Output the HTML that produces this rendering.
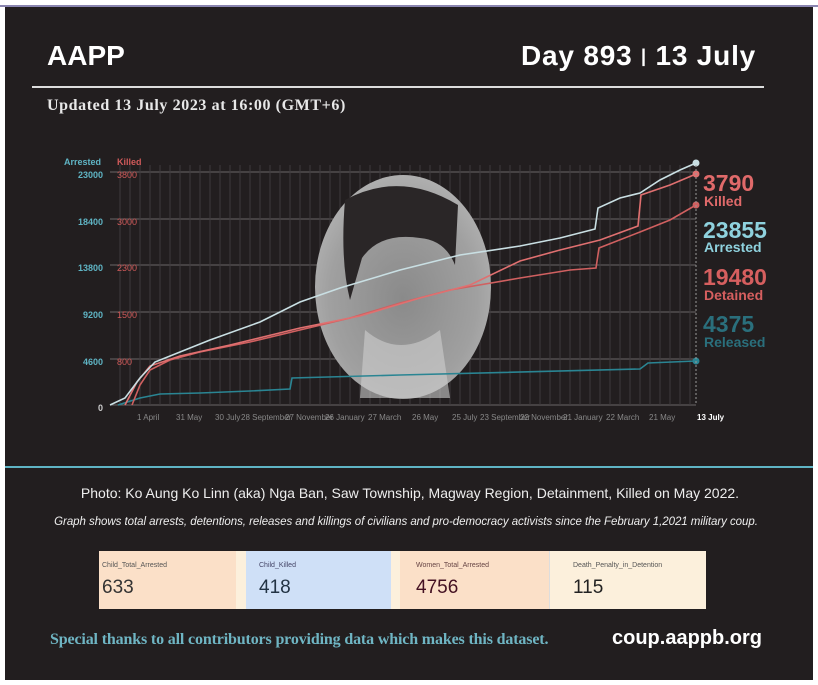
<!DOCTYPE html>
<html><head><style>
body{margin:0;width:818px;height:685px;background:#fff;overflow:hidden;font-family:"Liberation Sans",sans-serif}
#bg{position:absolute;left:5px;top:7px;width:808px;height:673px;background:#221e1f}
#topline{position:absolute;left:0;top:5px;width:818px;height:2px;background:#8a85b0}
.t{position:absolute;white-space:nowrap}
</style></head><body>
<div id="topline"></div>
<div id="bg"></div>
<div class="t" style="left:47px;top:40px;color:#fff;font-weight:bold;font-size:28px;letter-spacing:0px">AAPP</div>
<div class="t" style="left:521px;top:40px;color:#fff;font-weight:bold;font-size:28px;letter-spacing:0.8px">Day 893 <span style="font-size:18px;position:relative;top:-3px">|</span> 13 July</div>
<div style="position:absolute;left:32px;top:86px;width:732px;height:2px;background:#ddd"></div>
<div class="t" style="left:47px;top:97px;color:#e8e8e8;font-family:'Liberation Serif',serif;font-weight:bold;font-size:16px;letter-spacing:0.6px">Updated 13 July 2023 at 16:00 (GMT+6)</div>
<svg style="position:absolute;left:0;top:0" width="818" height="470">
<defs><radialGradient id="g" cx="50%" cy="55%" r="60%"><stop offset="0" stop-color="#8a8a8a"/><stop offset="0.7" stop-color="#a0a0a0"/><stop offset="1" stop-color="#b5b5b5"/></radialGradient></defs>
<g stroke="#4a4647" stroke-width="1">
<path d="M110 172H696M110 219H696M110 265H696M110 312H696M110 359H696M110 405H696" stroke="#6a6667"/>
</g>
<g id="v" stroke="#3f3b3c" stroke-width="1"></g>
<ellipse cx="403" cy="287" rx="88" ry="112" fill="url(#g)"/>
<path d="M345 200 Q400 170 458 205 L455 265 Q445 240 420 238 Q380 232 362 258 L350 300 Q340 260 345 200Z" fill="#2a2627"/>
<path d="M365 330 Q400 360 440 330 L450 398 L360 398Z" fill="#cfcfcf" opacity="0.6"/>
<g fill="none" stroke-width="1.6">
<polyline stroke="#2a8593" points="118,405 140,398 160,394 200,393 250,391 290,389 292,378 400,375 640,369 648,363 696,361"/>
<polyline stroke="#d06060" points="132,405 140,385 150,370 170,360 200,352 250,342 300,330 350,318 400,303 450,290 520,278 570,270 596,268 599,248 640,232 670,220 696,205"/>
<polyline stroke="#e07070" points="125,405 137,382 150,366 180,356 230,345 300,328 360,316 420,298 470,285 520,261 560,250 600,240 638,226 641,195 670,185 696,174"/>
<polyline stroke="#c9dfe3" points="110,405 125,398 140,378 155,362 180,352 210,340 260,322 300,302 340,288 400,270 460,255 520,246 560,238 595,229 598,208 620,198 640,193 660,180 680,170 696,163"/>
</g>
<circle cx="696" cy="163" r="3.5" fill="#c9dfe3"/><circle cx="696" cy="174" r="3.5" fill="#e07070"/><circle cx="696" cy="205" r="3.5" fill="#d06060"/><circle cx="696" cy="361" r="3.5" fill="#2a8593"/>
<line x1="696" y1="165" x2="696" y2="405" stroke="#999" stroke-dasharray="2,2"/>
<g font-size="9" font-weight="bold" fill="#5fb4c4" text-anchor="end">
<text x="101" y="165">Arrested</text><text x="103" y="178">23000</text><text x="103" y="225">18400</text><text x="103" y="271">13800</text><text x="103" y="318">9200</text><text x="103" y="365">4600</text><text x="103" y="411" fill="#ccc">0</text>
</g>
<g font-size="9" fill="#d05a5a"><text x="117" y="165" font-weight="bold">Killed</text><text x="117" y="178">3800</text><text x="117" y="225">3000</text><text x="117" y="271">2300</text><text x="117" y="318">1500</text><text x="117" y="365">800</text></g>
<g font-size="8" fill="#888"><text x="137" y="420">1 April</text><text x="176" y="420">31 May</text><text x="215" y="420">30 July</text><text x="241" y="420">28 September</text><text x="285" y="420">27 November</text><text x="325" y="420">26 January</text><text x="368" y="420">27 March</text><text x="412" y="420">26 May</text><text x="452" y="420">25 July</text><text x="480" y="420">23 September</text><text x="520" y="420">22 November</text><text x="563" y="420">21 January</text><text x="606" y="420">22 March</text><text x="649" y="420">21 May</text><text x="697" y="420" fill="#fff" font-weight="bold">13 July</text></g>
<g font-weight="bold">
<text x="703" y="191" font-size="23" fill="#e06a6a">3790</text><text x="704" y="206" font-size="14" fill="#e06a6a">Killed</text>
<text x="703" y="238" font-size="23" fill="#8fd2de">23855</text><text x="704" y="252" font-size="14" fill="#8fd2de">Arrested</text>
<text x="703" y="285" font-size="23" fill="#d65f5f">19480</text><text x="704" y="300" font-size="14" fill="#d65f5f">Detained</text>
<text x="703" y="332" font-size="23" fill="#2a6f7c">4375</text><text x="704" y="347" font-size="14" fill="#2a6f7c">Released</text>
</g>
<line x1="5" y1="467" x2="813" y2="467" stroke="#5fb4c4" stroke-width="2"/>
</svg>
<script>
var g=document.getElementById('v'),s='';for(var x=120;x<696;x+=10)s+='M'+x+' 165V405';
var p=document.createElementNS('http://www.w3.org/2000/svg','path');p.setAttribute('d',s);g.appendChild(p);
</script>
<div class="t" style="left:0;width:820px;text-align:center;top:485px;color:#eee;font-size:14px;letter-spacing:0px">Photo: Ko Aung Ko Linn (aka) Nga Ban, Saw Township, Magway Region, Detainment, Killed on May 2022.</div>
<div class="t" style="left:0;width:812px;text-align:center;top:516px;color:#eee;font-size:11.5px;font-style:italic;letter-spacing:-0.05px">Graph shows total arrests, detentions, releases and killings of civilians and pro-democracy activists since the February 1,2021 military coup.</div>
<div style="position:absolute;left:99px;top:551px;width:607px;height:58px;background:#fcf0dc">
<div style="position:absolute;left:0;top:0;width:137px;height:58px;background:#fbe0c8"></div>
<div style="position:absolute;left:147px;top:0;width:145px;height:58px;background:#cfe0f7"></div>
<div style="position:absolute;left:301px;top:0;width:149px;height:58px;background:#fbe0c8"></div>
<div style="position:absolute;left:450px;top:0;width:1px;height:58px;background:#ddd"></div>
</div>
<div class="t" style="left:102px;top:562px;font-size:7px;color:#555">Child_Total_Arrested</div>
<div class="t" style="left:102px;top:577px;font-size:19px;color:#333">633</div>
<div class="t" style="left:259px;top:562px;font-size:7px;color:#446">Child_Killed</div>
<div class="t" style="left:259px;top:577px;font-size:19px;color:#234">418</div>
<div class="t" style="left:416px;top:562px;font-size:7px;color:#644">Women_Total_Arrested</div>
<div class="t" style="left:416px;top:577px;font-size:19px;color:#412">4756</div>
<div class="t" style="left:573px;top:562px;font-size:7px;color:#555">Death_Penalty_in_Detention</div>
<div class="t" style="left:573px;top:577px;font-size:19px;color:#222">115</div>
<div class="t" style="left:50px;top:631px;color:#6fb5c3;font-family:'Liberation Serif',serif;font-weight:bold;font-size:16px;letter-spacing:-0.15px">Special thanks to all contributors providing data which makes this dataset.</div>
<div class="t" style="left:612px;top:627px;color:#fff;font-weight:bold;font-size:20px">coup.aappb.org</div>
</body></html>
